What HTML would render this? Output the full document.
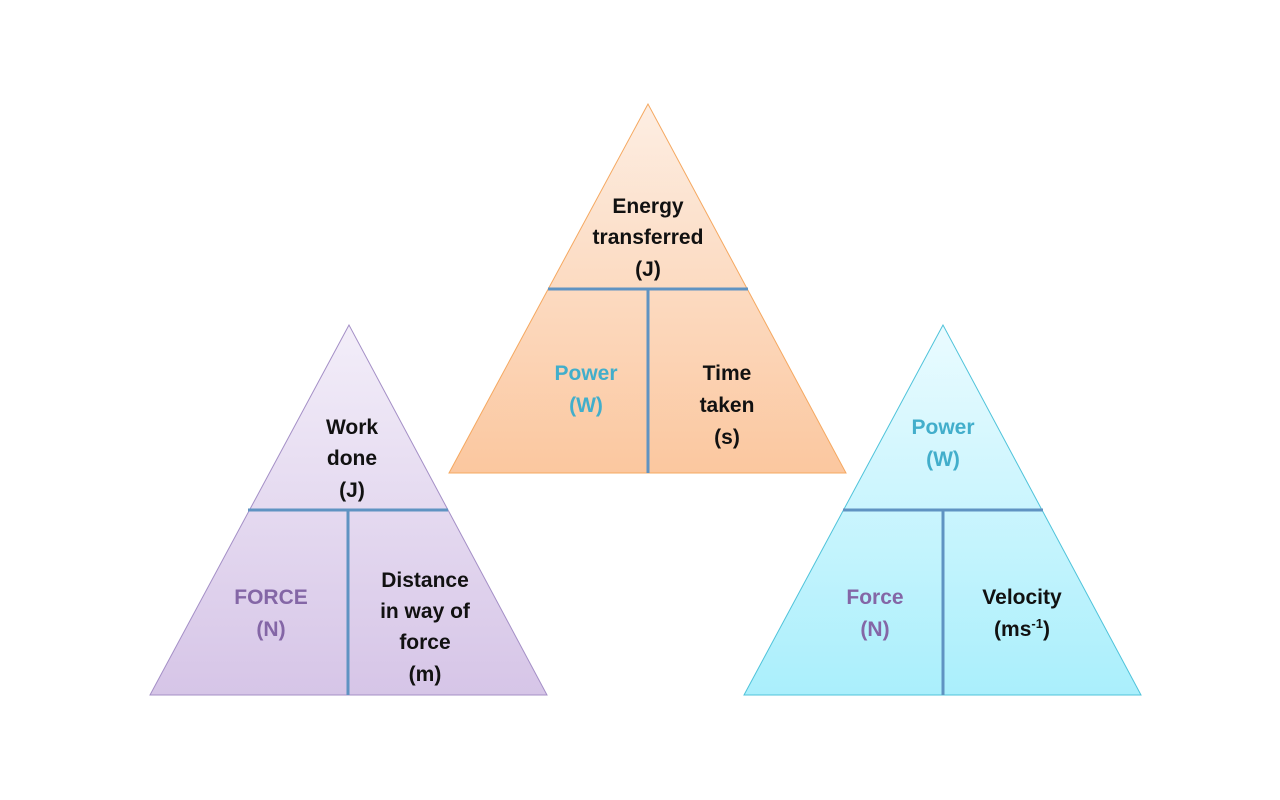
<!DOCTYPE html>
<html><head><meta charset="utf-8"><style>
html,body{margin:0;padding:0;background:#fff;width:1280px;height:800px;overflow:hidden}
text{font-family:"Liberation Sans",sans-serif;font-weight:bold;font-size:21px;text-anchor:middle}
</style></head><body>
<svg width="1280" height="800" viewBox="0 0 1280 800">
<defs>
<linearGradient id="go" x1="0" y1="0" x2="0" y2="1"><stop offset="0" stop-color="#fdeee3"/><stop offset="1" stop-color="#fbc79f"/></linearGradient>
<linearGradient id="gp" x1="0" y1="0" x2="0" y2="1"><stop offset="0" stop-color="#f3eef9"/><stop offset="1" stop-color="#d6c5e7"/></linearGradient>
<linearGradient id="gc" x1="0" y1="0" x2="0" y2="1"><stop offset="0" stop-color="#eafbff"/><stop offset="1" stop-color="#aaeffc"/></linearGradient>
</defs>
<polygon points="648,104 449,473 846,473" fill="url(#go)" stroke="#f5a860" stroke-width="1"/>
<line x1="548" y1="289" x2="748" y2="289" stroke="#5f93c2" stroke-width="3"/>
<line x1="648" y1="289" x2="648" y2="473" stroke="#5f93c2" stroke-width="3"/>
<polygon points="349,325 150,695 547,695" fill="url(#gp)" stroke="#a48fc6" stroke-width="1"/>
<line x1="248" y1="510" x2="448" y2="510" stroke="#5f93c2" stroke-width="3"/>
<line x1="348" y1="510" x2="348" y2="695" stroke="#5f93c2" stroke-width="3"/>
<polygon points="943,325 744,695 1141,695" fill="url(#gc)" stroke="#4fc3da" stroke-width="1"/>
<line x1="843" y1="510" x2="1043" y2="510" stroke="#5f93c2" stroke-width="3"/>
<line x1="943" y1="510" x2="943" y2="695" stroke="#5f93c2" stroke-width="3"/>
<g fill="#111">
<text x="648" y="213">Energy</text><text x="648" y="244">transferred</text><text x="648" y="276">(J)</text>
<text x="727" y="380">Time</text><text x="727" y="412">taken</text><text x="727" y="444">(s)</text>
<text x="352" y="434">Work</text><text x="352" y="465">done</text><text x="352" y="497">(J)</text>
<text x="425" y="587">Distance</text><text x="425" y="618">in way of</text><text x="425" y="649">force</text><text x="425" y="681">(m)</text>
<text x="1022" y="604">Velocity</text><text x="1022" y="636">(ms<tspan dy="-8" font-size="13">-1</tspan><tspan dy="8">)</tspan></text>
</g>
<g fill="#42aecb">
<text x="586" y="380">Power</text><text x="586" y="412">(W)</text>
<text x="943" y="434">Power</text><text x="943" y="466">(W)</text>
</g>
<g fill="#8466a6">
<text x="271" y="604">FORCE</text><text x="271" y="636">(N)</text>
<text x="875" y="604">Force</text><text x="875" y="636">(N)</text>
</g>
</svg>
</body></html>
